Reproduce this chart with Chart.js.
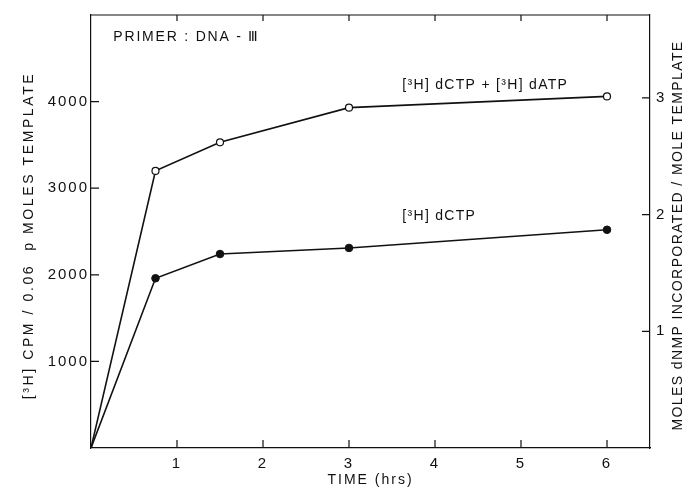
<!DOCTYPE html>
<html>
<head>
<meta charset="utf-8">
<script src="https://cdn.jsdelivr.net/npm/chart.js@4.4.0/dist/chart.umd.min.js"></script>
<style>
    html, body { margin: 0; padding: 0; background: #fff; }
    #wrap { width: 687px; height: 487px; }
</style>
</head>
<body>
<div id="wrap"><canvas id="timeChart" width="687" height="487"></canvas></div>
<script>
// Time course of [3H] dNMP incorporation, primer DNA-III

const timeHrs = [0, 0.75, 1.5, 3, 6];
const cpmBoth = [0, 3200, 3530, 3930, 4060]; // [3H] dCTP + [3H] dATP
const cpmDctp = [0, 1960, 2240, 2310, 2520]; // [3H] dCTP
const seriesNames = ["[³H] dCTP + [³H] dATP", "[³H] dCTP"];
const xTicks = [1, 2, 3, 4, 5, 6];
const cpmTicks = [1000, 2000, 3000, 4000];
const moleTicks = [1, 2, 3];

const FONT = "'Liberation Sans', Arial, sans-serif";
const INK = "#111";

function toPoints(ys) {
    return timeHrs.map((t, i) => ({ x: t, y: ys[i] }));
}

// inward tick marks, top border, titles and in-plot labels
const paperPlugin = {
    id: "paper",
    beforeDraw(chart) {
        chart.ctx.letterSpacing = "2px";
    },
    afterDatasetsDraw(chart) {
        const ctx = chart.ctx;
        const area = chart.chartArea;
        const x = chart.scales.x;
        const y = chart.scales.y;
        const y1 = chart.scales.y1;

        ctx.save();
        ctx.strokeStyle = INK;
        ctx.lineWidth = 1.2;
        ctx.beginPath();
        ctx.moveTo(area.left, area.top);
        ctx.lineTo(area.right, area.top);
        xTicks.forEach((v) => {
            const px = x.getPixelForValue(v);
            ctx.moveTo(px, area.bottom);
            ctx.lineTo(px, area.bottom - 8);
            ctx.moveTo(px, area.top);
            ctx.lineTo(px, area.top + 6);
        });
        cpmTicks.forEach((v) => {
            const py = y.getPixelForValue(v);
            ctx.moveTo(area.left, py);
            ctx.lineTo(area.left + 8, py);
        });
        moleTicks.forEach((v) => {
            const py = y1.getPixelForValue(v);
            ctx.moveTo(area.right, py);
            ctx.lineTo(area.right - 8, py);
        });
        ctx.stroke();

        ctx.fillStyle = INK;
        ctx.textBaseline = "middle";
        ctx.textAlign = "left";
        ctx.letterSpacing = "1.8px";
        ctx.font = "14px " + FONT;
        ctx.fillText("PRIMER : DNA - Ⅲ", x.getPixelForValue(0.26), y.getPixelForValue(4740));
        ctx.letterSpacing = "1.3px";
        ctx.fillText(seriesNames[0], x.getPixelForValue(3.62), y.getPixelForValue(4190));
        ctx.fillText(seriesNames[1], x.getPixelForValue(3.62), y.getPixelForValue(2680));

        // axis titles
        ctx.textAlign = "center";
        ctx.letterSpacing = "2px";
        ctx.fillText("TIME (hrs)", (area.left + area.right) / 2, 480);

        const midY = (area.top + area.bottom) / 2 + 4;
        ctx.save();
        ctx.translate(29, midY);
        ctx.rotate(-Math.PI / 2);
        ctx.letterSpacing = "2.6px";
        ctx.fillText("[³H] CPM / 0.06  p MOLES TEMPLATE", 0, 0);
        ctx.restore();

        ctx.save();
        ctx.translate(678, midY);
        ctx.rotate(-Math.PI / 2);
        ctx.letterSpacing = "1.4px";
        ctx.fillText("MOLES dNMP INCORPORATED / MOLE TEMPLATE", 0, 0);
        ctx.restore();

        ctx.restore();
    },
};

function plainTick(value) {
    return String(value);
}

function initTimeChart() {
    const ctx = document.getElementById("timeChart");

    const chart = new Chart(ctx, {
        type: "line",
        data: {
            datasets: [
                {
                    label: seriesNames[0],
                    data: toPoints(cpmBoth),
                    borderColor: INK,
                    borderWidth: 1.6,
                    pointRadius: timeHrs.map((t) => (t === 0 ? 0 : 3.5)),
                    pointBackgroundColor: "#fff",
                    pointBorderColor: INK,
                    pointBorderWidth: 1.2,
                    tension: 0,
                    yAxisID: "y",
                },
                {
                    label: seriesNames[1],
                    data: toPoints(cpmDctp),
                    borderColor: INK,
                    borderWidth: 1.6,
                    pointRadius: timeHrs.map((t) => (t === 0 ? 0 : 3.8)),
                    pointBackgroundColor: INK,
                    pointBorderColor: INK,
                    pointBorderWidth: 1,
                    tension: 0,
                    yAxisID: "y",
                },
            ],
        },
        options: {
            responsive: false,
            devicePixelRatio: 1,
            animation: false,
            layout: { padding: { top: 14, left: 0, right: 0, bottom: 0 } },
            scales: {
                x: {
                    type: "linear",
                    min: 0,
                    max: 6.5,
                    afterBuildTicks: (s) => {
                        s.ticks = xTicks.map((v) => ({ value: v }));
                    },
                    afterFit: (s) => {
                        s.height = 39;
                    },
                    grid: { display: false, drawTicks: false },
                    border: { display: true, color: INK, width: 1.2 },
                    ticks: {
                        color: INK,
                        font: { family: FONT, size: 15 },
                        padding: 7,
                        maxRotation: 0,
                        autoSkip: false,
                        callback: plainTick,
                    },
                },
                y: {
                    position: "left",
                    min: 0,
                    max: 5000,
                    afterBuildTicks: (s) => {
                        s.ticks = cpmTicks.map((v) => ({ value: v }));
                    },
                    afterFit: (s) => {
                        s.width = 91;
                    },
                    grid: { display: false, drawTicks: false },
                    border: { display: true, color: INK, width: 1.2 },
                    ticks: {
                        color: INK,
                        font: { family: FONT, size: 15 },
                        padding: 2,
                        callback: plainTick,
                    },
                },
                y1: {
                    position: "right",
                    min: 0,
                    max: 3.71,
                    afterBuildTicks: (s) => {
                        s.ticks = moleTicks.map((v) => ({ value: v }));
                    },
                    afterFit: (s) => {
                        s.width = 37;
                    },
                    grid: { display: false, drawTicks: false },
                    border: { display: true, color: INK, width: 1.2 },
                    ticks: {
                        color: INK,
                        font: { family: FONT, size: 15 },
                        padding: 6,
                        callback: plainTick,
                    },
                },
            },
            plugins: {
                legend: { display: false },
                tooltip: { enabled: false },
            },
        },
        plugins: [paperPlugin],
    });

    window.timeChartInstance = chart;
}

document.addEventListener("DOMContentLoaded", initTimeChart);
</script>
</body>
</html>
